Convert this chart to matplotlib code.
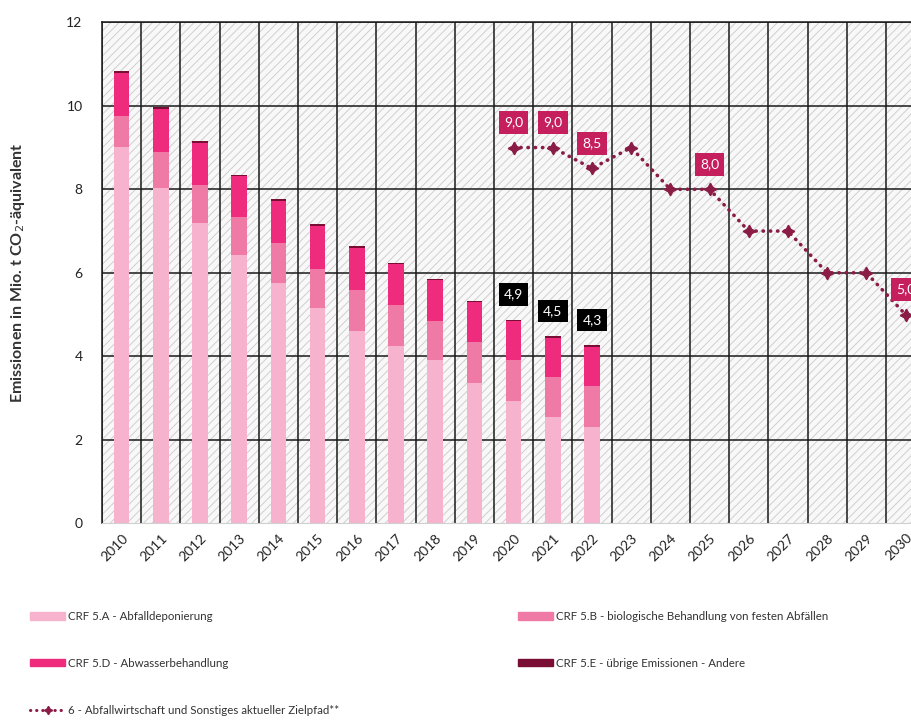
import matplotlib.pyplot as plt
import numpy as np
from matplotlib.patches import Rectangle

plt.rcParams['font.family'] = ['Lato', 'DejaVu Sans']

# Jahre und Emissionen (Mio. t CO2-Äq.)
jahre = [str(j) for j in range(2010, 2031)]
ist_jahre = jahre[:13]
crf_5a = [9.01, 8.02, 7.19, 6.42, 5.76, 5.15, 4.61, 4.25, 3.92, 3.37, 2.93, 2.54, 2.31]
crf_5b = [0.75, 0.87, 0.91, 0.91, 0.95, 0.94, 0.98, 0.97, 0.93, 0.98, 0.98, 0.97, 0.98]
crf_5d = [1.03, 1.03, 1.01, 0.98, 1.02, 1.03, 1.01, 0.98, 0.97, 0.94, 0.93, 0.94, 0.94]
crf_5e = [0.04, 0.04, 0.04, 0.04, 0.04, 0.04, 0.04, 0.04, 0.04, 0.04, 0.04, 0.04, 0.04]
summen_labels = {'2020': 4.9, '2021': 4.5, '2022': 4.3}

ziel_jahre = jahre[10:]
zielpfad = [9.0, 9.0, 8.5, 9.0, 8.0, 8.0, 7.0, 7.0, 6.0, 6.0, 5.0]
ziel_labels = ['2020', '2021', '2022', '2025', '2030']

farben = {'5A': '#f7b3cd', '5B': '#f07aa6', '5D': '#ee2b7c', '5E': '#7a0d33'}
ziel_farbe = '#8a1c45'
box_farbe = '#c51f5d'

fig = plt.figure(figsize=(9.12, 7.22), dpi=100)
ax = fig.add_axes([0.1118, 0.2752, 0.9026, 0.6939])

x_alle = np.arange(len(jahre))
x_ist = np.arange(len(ist_jahre))

ax.set_xlim(-0.5, len(jahre) - 0.5)
ax.set_ylim(0, 12)

# Hintergrund mit Schraffur
ax.set_facecolor('#f8f8f8')
plt.rcParams['hatch.linewidth'] = 0.7
ax.add_patch(Rectangle((0, 0), 1, 1, transform=ax.transAxes, facecolor='none',
                       edgecolor='#cfcfcf', hatch='////', linewidth=0, zorder=0))

# Gitter
for xb in np.arange(-0.5, len(jahre), 1.0):
    ax.axvline(xb, color='#1a1a1a', lw=1.1, zorder=1)
for yv in range(2, 13, 2):
    ax.axhline(yv, color='#1a1a1a', lw=1.1, zorder=1)

# gestapelte Balken
breite = 0.4
unten = np.zeros(len(ist_jahre))
for werte, key in [(crf_5a, '5A'), (crf_5b, '5B'), (crf_5d, '5D'), (crf_5e, '5E')]:
    ax.bar(x_ist, werte, breite, bottom=unten, color=farben[key], zorder=2)
    unten = unten + np.array(werte)

box_text = dict(textcoords='offset pixels', ha='center', va='center', color='white',
                fontsize=10, zorder=5)
for jahr, wert in summen_labels.items():
    i = jahre.index(jahr)
    ax.annotate(f'{wert:.1f}'.replace('.', ','), (i, unten[i]), xytext=(0, 25),
                bbox=dict(boxstyle='square,pad=0.38', fc='black', ec='none'), **box_text)

# Zielpfad
x_ziel = [jahre.index(j) for j in ziel_jahre]
ax.plot(x_ziel, zielpfad, color=ziel_farbe, lw=2.6, linestyle=(0, (0.1, 1.9)),
        dash_capstyle='round', marker=(4, 1, 0), markersize=9, zorder=4)
for jahr in ziel_labels:
    i = ziel_jahre.index(jahr)
    ax.annotate(f'{zielpfad[i]:.1f}'.replace('.', ','), (x_ziel[i], zielpfad[i]),
                xytext=(0, 25),
                bbox=dict(boxstyle='square,pad=0.38', fc=box_farbe, ec='none'), **box_text)

# Achsen
ax.set_xticks(x_alle)
ax.set_xticklabels(jahre, rotation=45, ha='right', va='top', rotation_mode='anchor',
                   fontsize=9.5, color='#222222')
ax.set_yticks(range(0, 13, 2))
ax.tick_params(axis='both', length=0, labelsize=10, labelcolor='#222222')
ax.tick_params(axis='x', pad=6)
ax.tick_params(axis='y', pad=14)
for s in ['left', 'top', 'right']:
    ax.spines[s].set_color('#1a1a1a')
    ax.spines[s].set_linewidth(1.1)
ax.spines['bottom'].set_color('#d0d0d0')
ax.set_ylabel('Emissionen in Mio. t CO$_2$-äquivalent', fontsize=11.5, fontweight='bold',
              color='#333333', labelpad=28)

# Legende in zwei Spalten
leg_stil = dict(loc='upper left', frameon=False, fontsize=8.3, handlelength=3.0,
                handleheight=0.6, handletextpad=0.3, labelspacing=3.1,
                labelcolor='#333333')
links = [
    (Rectangle((0, 0), 1, 1, color=farben['5A']), 'CRF 5.A - Abfalldeponierung'),
    (Rectangle((0, 0), 1, 1, color=farben['5D']), 'CRF 5.D - Abwasserbehandlung'),
    (plt.Line2D([], [], color=ziel_farbe, lw=2.2, linestyle=(0, (0.1, 1.9)),
                dash_capstyle='round', marker=(4, 1, 0), markersize=6, markevery=[2]),
     '6 - Abfallwirtschaft und Sonstiges aktueller Zielpfad**'),
]
rechts = [
    (Rectangle((0, 0), 1, 1, color=farben['5B']),
     'CRF 5.B - biologische Behandlung von festen Abfällen'),
    (Rectangle((0, 0), 1, 1, color=farben['5E']), 'CRF 5.E - übrige Emissionen - Andere'),
]
fig.legend(*zip(*links), bbox_to_anchor=(0.022, 0.168), **leg_stil)
fig.legend(*zip(*rechts), bbox_to_anchor=(0.557, 0.168), **leg_stil)

fig.savefig('out.png', dpi=100)
